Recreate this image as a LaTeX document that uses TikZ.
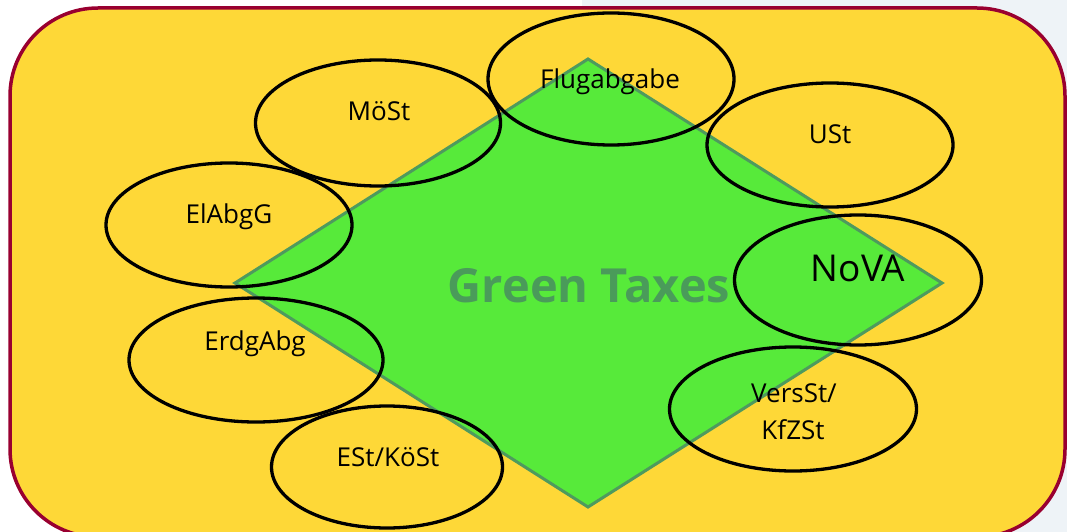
\documentclass[tikz,border=0pt]{standalone}
\usepackage{fontspec}
\setmainfont{Open Sans}
\usetikzlibrary{shapes.geometric}
\definecolor{panelfill}{HTML}{FED837}
\definecolor{panelborder}{HTML}{990030}
\definecolor{diamondfill}{HTML}{57EA3A}
\definecolor{diamondborder}{HTML}{4E9A5E}
\definecolor{titlegreen}{HTML}{4A9B5A}
\definecolor{slidebg}{HTML}{EEF3F7}
\tikzset{
  taxring/.style={draw=black, line width=3.3pt, ellipse, inner sep=0pt},
  taxlabel/.style={anchor=base, inner sep=0pt, font=\fontsize{26}{30}\selectfont, text=black},
}
\begin{document}
\begin{tikzpicture}[x=1pt,y=-1pt]
\useasboundingbox (0,0) rectangle (1067,532);
\fill[white] (0,0) rectangle (1067,532);
\fill[slidebg] (582,0) rectangle (1067,532);
% panel
\draw[panelborder, fill=panelfill, line width=3.5pt, rounded corners=88pt] (10,8) rectangle (1065,537);
% diamond
\coordinate (dT) at (588,59);
\coordinate (dL) at (235,283);
\coordinate (dB) at (588,507);
\coordinate (dR) at (942,283);
\draw[diamondborder, fill=diamondfill, line width=3pt, line join=miter] (dT) -- (dR) -- (dB) -- (dL) -- cycle;
\node[anchor=base, inner sep=0pt, font=\bfseries\fontsize{47}{56}\selectfont, text=titlegreen] (title) at (589,302) {Green Taxes};
% ellipses
\node[taxring, minimum width=245pt, minimum height=126pt] (moest) at (378,123) {};
\node[taxring, minimum width=246pt, minimum height=132pt] (flug) at (611,79) {};
\node[taxring, minimum width=246pt, minimum height=124pt] (ust) at (830,145) {};
\node[taxring, minimum width=246pt, minimum height=124pt] (elabg) at (229,225) {};
\node[taxring, minimum width=254pt, minimum height=124pt] (erdg) at (256,360) {};
\node[taxring, minimum width=231pt, minimum height=122pt] (est) at (387,467) {};
\node[taxring, minimum width=247pt, minimum height=130pt] (nova) at (858,280) {};
\node[taxring, minimum width=247pt, minimum height=124pt] (vers) at (793,409) {};
% labels
\node[taxlabel] (tmoest) at (379,121) {MöSt};
\node[taxlabel] (tflug) at (610,89) {Flugabgabe};
\node[taxlabel] (tust) at (830,143) {USt};
\node[taxlabel] (telabg) at (229,223) {ElAbgG};
\node[taxlabel] (terdg) at (255,350) {ErdgAbg};
\node[taxlabel] (test) at (388,466) {ESt/KöSt};
\node[taxlabel, font=\fontsize{37}{40}\selectfont] (tnova) at (858,281) {NoVA};
\node[taxlabel] (tvers) at (794,402) {VersSt/};
\node[taxlabel] (tkfz) at (793,439) {KfZSt};
\end{tikzpicture}
\end{document}
